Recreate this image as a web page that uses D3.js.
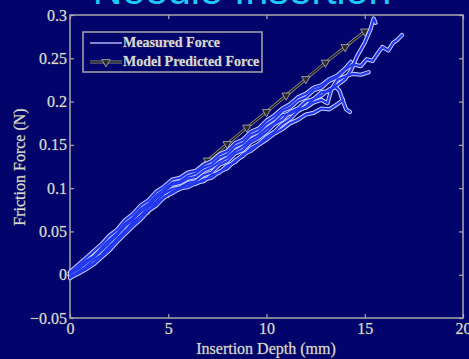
<!DOCTYPE html>
<html>
<head>
<meta charset="utf-8">
<script src="https://cdn.jsdelivr.net/npm/d3@7"></script>
<style>
  html, body { margin: 0; padding: 0; background: #03036c; }
  svg { display: block; }
</style>
</head>
<body>
<svg id="chart" width="469" height="359"></svg>
<script>
// Axis ticks
const xTicks = [0, 5, 10, 15, 20];
const yTicks = [-0.05, 0, 0.05, 0.1, 0.15, 0.2, 0.25, 0.3];

// Model predicted friction force, one marker per mm of depth
const modelDepth = [0, 1, 2, 3, 4, 5, 6, 7, 8, 9, 10, 11, 12, 13, 14, 15];
const modelForce = [0, 0.018, 0.037, 0.056, 0.075, 0.094, 0.113, 0.132, 0.151, 0.170, 0.188, 0.207, 0.226, 0.245, 0.263, 0.281];

// Measured force traces: [depth (mm), force (N)]
const trial1 = [[0,-0.004],[0.4,0.002],[0.8,0.008],[1.2,0.013],[1.6,0.022],[2,0.031],[2.4,0.042],[2.8,0.050],[3.2,0.061],[3.6,0.068],[4,0.078],[4.4,0.085],[4.8,0.094],[5.2,0.099],[5.6,0.101],[6,0.106],[6.4,0.108],[6.8,0.115],[7.2,0.118],[7.6,0.127],[8,0.131],[8.4,0.140],[8.8,0.144],[9.2,0.153],[9.6,0.158],[10,0.165],[10.4,0.174],[10.8,0.179],[11.2,0.188],[11.6,0.192],[12,0.200],[12.4,0.203],[12.8,0.211],[13.2,0.212],[13.6,0.219],[14,0.226],[14.3,0.236],[14.6,0.252],[15,0.268],[15.3,0.284],[15.45,0.296],[15.55,0.291]];
const trial2 = [[0,0.001],[0.4,0.008],[0.8,0.016],[1.2,0.021],[1.6,0.031],[2,0.040],[2.4,0.048],[2.8,0.059],[3.2,0.066],[3.6,0.076],[4,0.082],[4.4,0.092],[4.8,0.099],[5.2,0.106],[5.6,0.108],[6,0.114],[6.4,0.117],[6.8,0.124],[7.2,0.127],[7.6,0.135],[8,0.139],[8.4,0.148],[8.8,0.152],[9.2,0.161],[9.6,0.165],[10,0.174],[10.4,0.180],[10.8,0.189],[11.2,0.193],[11.6,0.201],[12,0.205],[12.4,0.213],[12.8,0.216],[13.2,0.224],[13.6,0.228],[14,0.237],[14.4,0.243],[14.8,0.241],[15.1,0.249],[15.4,0.247],[15.7,0.257],[15.9,0.263],[16.2,0.259],[16.45,0.268],[16.65,0.271],[16.9,0.277]];
const trial3 = [[0,-0.002],[0.4,0.003],[0.8,0.009],[1.2,0.017],[1.6,0.023],[2,0.033],[2.4,0.040],[2.8,0.051],[3.2,0.058],[3.6,0.068],[4,0.074],[4.4,0.083],[4.8,0.089],[5.2,0.096],[5.6,0.099],[6,0.104],[6.4,0.105],[6.8,0.110],[7.2,0.112],[7.6,0.119],[8,0.123],[8.4,0.132],[8.8,0.137],[9.2,0.146],[9.6,0.151],[10,0.159],[10.4,0.165],[10.8,0.174],[11.2,0.180],[11.6,0.189],[12,0.194],[12.4,0.203],[12.8,0.207],[13.2,0.214],[13.5,0.217],[13.7,0.213],[13.9,0.200],[14.05,0.191],[14.25,0.188]];
const trial4 = [[0,0.001],[0.4,0.006],[0.8,0.013],[1.2,0.020],[1.6,0.028],[2,0.037],[2.4,0.046],[2.8,0.056],[3.2,0.064],[3.6,0.073],[4,0.080],[4.4,0.089],[4.8,0.096],[5.2,0.104],[5.6,0.106],[6,0.111],[6.4,0.113],[6.8,0.120],[7.2,0.124],[7.6,0.130],[8,0.135],[8.4,0.143],[8.8,0.148],[9.2,0.156],[9.6,0.161],[10,0.169],[10.4,0.175],[10.8,0.184],[11.2,0.186],[11.6,0.191],[12,0.193],[12.4,0.199],[12.8,0.202],[13.1,0.198],[13.3,0.214],[13.6,0.225],[14,0.229],[14.4,0.232],[14.8,0.231],[15.2,0.234]];
const trial5 = [[0,-0.003],[0.4,0.001],[0.8,0.006],[1.2,0.012],[1.6,0.020],[2,0.028],[2.4,0.038],[2.8,0.047],[3.2,0.056],[3.6,0.064],[4,0.074],[4.4,0.080],[4.8,0.090],[5.2,0.094],[5.6,0.100],[6,0.101],[6.4,0.106],[6.8,0.108],[7.2,0.115],[7.6,0.118],[8,0.126],[8.4,0.130],[8.8,0.139],[9.2,0.143],[9.6,0.150],[10,0.156],[10.4,0.163],[10.8,0.168],[11.2,0.175],[11.6,0.179],[12,0.185],[12.4,0.187],[12.8,0.192],[13.2,0.191],[13.6,0.197],[13.9,0.202]];
const trial6 = [[0,0.003],[0.4,0.011],[0.8,0.019],[1.2,0.027],[1.6,0.035],[2,0.045],[2.4,0.052],[2.8,0.063],[3.2,0.070],[3.6,0.080],[4,0.086],[4.4,0.096],[4.8,0.102],[5.2,0.110],[5.6,0.112],[6,0.118],[6.4,0.120],[6.8,0.127],[7.2,0.131],[7.6,0.139],[8,0.143],[8.4,0.152],[8.8,0.156],[9.2,0.165],[9.6,0.169],[10,0.178],[10.4,0.184],[10.8,0.192],[11.2,0.197],[11.6,0.205],[12,0.209],[12.4,0.216],[12.8,0.219],[13.2,0.226],[13.6,0.230],[14,0.238],[14.3,0.246]];
const trials = [trial1, trial2, trial3, trial4, trial5, trial6];

const svg = d3.select("#chart");
const bg = "#03036c";
const textFill = "#d9d9d9";
const textEdge = "#5a5a6a";
const serif = "'Liberation Serif', 'Times New Roman', serif";

const x = d3.scaleLinear().domain([0, 20]).range([70, 463]);
const y = d3.scaleLinear().domain([-0.05, 0.3]).range([318, 15]);

// Title (runs off the top edge)
svg.append("text")
  .attr("x", 242).attr("y", 4)
  .attr("text-anchor", "middle")
  .attr("font-family", "'Liberation Sans', Arial, sans-serif")
  .attr("font-size", 41)
  .attr("fill", "#1ec8f8")
  .text("Needle Insertion");

// Plot frame
const frameColor = "#a9a9a9";
svg.append("rect")
  .attr("x", x(0)).attr("y", y(0.3))
  .attr("width", x(20) - x(0)).attr("height", y(-0.05) - y(0.3))
  .attr("fill", "none").attr("stroke", frameColor).attr("stroke-width", 1.5);

function styleAxis(g, labels) {
  g.select(".domain").remove();
  g.selectAll(".tick line").attr("stroke", frameColor).attr("stroke-width", 1.2);
  if (!labels) g.selectAll(".tick text").remove();
  g.selectAll(".tick text")
    .attr("fill", textFill)
    .attr("stroke", textEdge).attr("stroke-width", 0.7)
    .attr("paint-order", "stroke")
    .attr("font-family", serif).attr("font-size", 16);
}

svg.append("g").attr("transform", `translate(0,${y(-0.05)})`)
  .call(d3.axisBottom(x).tickValues(xTicks).tickFormat(d3.format("d")).tickSize(-4).tickPadding(5))
  .call(g => styleAxis(g, true));
svg.append("g").attr("transform", `translate(0,${y(0.3)})`)
  .call(d3.axisTop(x).tickValues(xTicks).tickSize(-4))
  .call(g => styleAxis(g, false));
svg.append("g").attr("transform", `translate(${x(0)},0)`)
  .call(d3.axisLeft(y).tickValues(yTicks).tickFormat(d => d3.format("")(+d.toFixed(2))).tickSize(-4).tickPadding(3))
  .call(g => styleAxis(g, true));
svg.append("g").attr("transform", `translate(${x(20)},0)`)
  .call(d3.axisRight(y).tickValues(yTicks).tickSize(-4))
  .call(g => styleAxis(g, false));

// Axis titles
svg.append("text")
  .attr("x", 266).attr("y", 354)
  .attr("text-anchor", "middle")
  .attr("font-family", serif).attr("font-size", 16)
  .attr("fill", textFill).attr("stroke", textEdge).attr("stroke-width", 0.7).attr("paint-order", "stroke")
  .text("Insertion Depth (mm)");
svg.append("text")
  .attr("transform", "translate(25,167) rotate(-90)")
  .attr("text-anchor", "middle")
  .attr("font-family", serif).attr("font-size", 16)
  .attr("fill", textFill).attr("stroke", textEdge).attr("stroke-width", 0.7).attr("paint-order", "stroke")
  .text("Friction Force (N)");

const line = d3.line().x(d => x(d[0])).y(d => y(d[1])).curve(d3.curveLinear);

// Model line with down-pointing triangle markers (drawn beneath the measurements)
const modelPts = modelDepth.map((d, i) => [d, modelForce[i]]);
svg.append("path").attr("d", line(modelPts)).attr("fill", "none")
  .attr("stroke", "#8a8a8a").attr("stroke-width", 3);
svg.append("path").attr("d", line(modelPts)).attr("fill", "none")
  .attr("stroke", "#1a1a1a").attr("stroke-width", 1.4);
const tri = d3.symbol().type(d3.symbolTriangle).size(30);
svg.append("g").selectAll("path").data(modelPts).join("path")
  .attr("transform", d => `translate(${x(d[0])},${y(d[1])}) rotate(180)`)
  .attr("d", tri)
  .attr("fill", "#2a2a2a").attr("stroke", "#9a9a9a").attr("stroke-width", 1);

// Measured traces: pale halo under a saturated blue core
const traces = svg.append("g");
traces.selectAll("path.halo").data(trials).join("path")
  .attr("class", "halo")
  .attr("d", line).attr("fill", "none")
  .attr("stroke", "#c8d0ff").attr("stroke-width", 4.2)
  .attr("stroke-linejoin", "round").attr("stroke-linecap", "round");
traces.selectAll("path.core").data(trials).join("path")
  .attr("class", "core")
  .attr("d", line).attr("fill", "none")
  .attr("stroke", "#2236ee").attr("stroke-width", 2.2)
  .attr("stroke-linejoin", "round").attr("stroke-linecap", "round");

// Legend
const lg = svg.append("g");
lg.append("rect").attr("x", 83).attr("y", 32).attr("width", 179).attr("height", 40)
  .attr("fill", bg).attr("stroke", frameColor).attr("stroke-width", 1.5);
lg.append("line").attr("x1", 90).attr("x2", 122).attr("y1", 43).attr("y2", 43)
  .attr("stroke", "#a8a8ec").attr("stroke-width", 1.6);
lg.append("line").attr("x1", 90).attr("x2", 122).attr("y1", 62).attr("y2", 62)
  .attr("stroke", "#8a8a8a").attr("stroke-width", 3);
lg.append("line").attr("x1", 90).attr("x2", 122).attr("y1", 62).attr("y2", 62)
  .attr("stroke", "#1a1a1a").attr("stroke-width", 1.4);
lg.append("path").attr("transform", "translate(106,62) rotate(180)").attr("d", tri)
  .attr("fill", "#2a2a2a").attr("stroke", "#9a9a9a").attr("stroke-width", 1);
lg.selectAll("text").data(["Measured Force", "Model Predicted Force"]).join("text")
  .attr("x", 123).attr("y", (d, i) => 47 + i * 19)
  .attr("font-family", serif).attr("font-size", 14).attr("font-weight", "bold")
  .attr("fill", textFill).attr("stroke", textEdge).attr("stroke-width", 0.6).attr("paint-order", "stroke")
  .text(d => d);
</script>
</body>
</html>
